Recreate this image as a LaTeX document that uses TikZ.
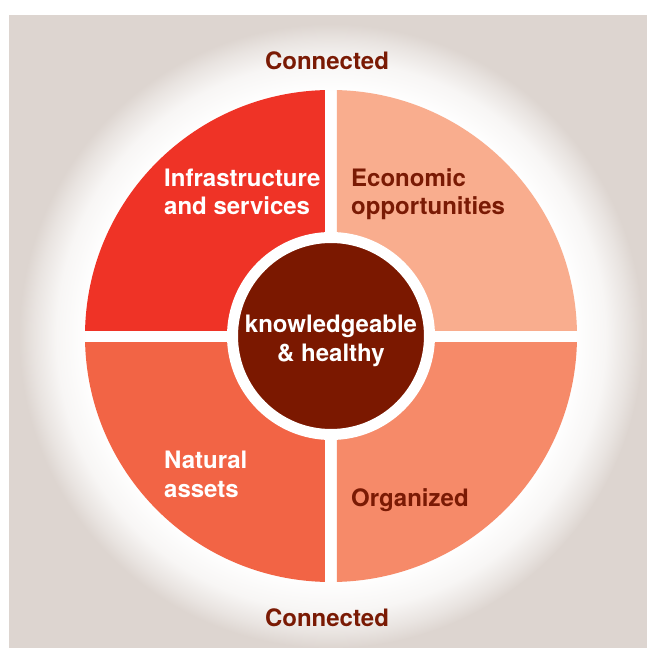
\documentclass[tikz,border=0pt]{standalone}
\usepackage{fontspec}
\setmainfont{TeX Gyre Heros}
\usetikzlibrary{positioning}

\definecolor{sand}{HTML}{DDD5D0}
\definecolor{quadA}{HTML}{EF3326}
\definecolor{quadB}{HTML}{F9AD8E}
\definecolor{quadC}{HTML}{F26445}
\definecolor{quadD}{HTML}{F68A69}
\definecolor{coreRed}{HTML}{7B1800}
\definecolor{ink}{HTML}{7A1A04}

\pgfdeclareradialshading{halo}{\pgfpoint{0bp}{0bp}}{%
  color(0bp)=(white); color(19.5bp)=(white); color(22bp)=(sand!22!white);
  color(23.8bp)=(sand!65!white); color(25bp)=(sand); color(50bp)=(sand)}

\begin{document}
\begin{tikzpicture}[
  x=1pt, y=1pt,
  txt/.style={font=\fontsize{24}{28.5}\selectfont\bfseries, inner sep=0pt},
  seg/.style={txt, align=left, text=white},
  segdark/.style={txt, align=left, text=ink},
  ring/.style={txt, text=ink},
  core/.style={circle, fill=coreRed, draw=white, line width=11pt,
               minimum size=197pt, inner sep=0pt},
]
\useasboundingbox (-331,-312) rectangle (316,336);

% ---- backdrop and halo ----
\fill[sand] (-322,-312) rectangle (316,321);
\begin{scope}
  \clip (-322,-312) rectangle (316,321);
  \shade[shading=halo] (0,0) circle (312);
\end{scope}

% ---- four quarters ----
\foreach \sx/\sy/\tone in {-1/1/quadA, 1/1/quadB, -1/-1/quadC, 1/-1/quadD}{
  \begin{scope}
    \clip (6*\sx,6*\sy) rectangle (260*\sx,260*\sy);
    \fill[\tone] (0,0) circle (246);
  \end{scope}
}

% ---- centre ----
\node[core] (core) at (0,0) {};
\node[txt, align=center, text=white, below=5pt of core.center, anchor=center]
  (coretxt) {knowledgeable\\\& healthy};

% ---- quarter labels (base = last line) ----
\node[seg, anchor=base west]     (infra)   at (-167,121)    {Infrastructure\\and services};
\node[segdark, anchor=base west] (econ)    at (20,121)      {Economic\\opportunities};
\node[seg, anchor=base west]     (natural) at (-167,-161.3) {Natural\\assets};
\node[segdark, anchor=base west] (org)     at (20,-170.7)   {Organized};

% ---- outer labels ----
\node[ring, anchor=base] (conntop) at (-4,266.7) {Connected};
\node[ring, anchor=base] (connbot) at (-4,-290)  {Connected};

\end{tikzpicture}
\end{document}
